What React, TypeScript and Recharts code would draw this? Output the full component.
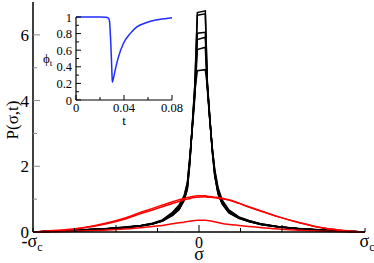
import { Label, Line, LineChart, XAxis, YAxis } from "recharts";

// sigma in units of sigma_c
const sigma = [
  -1, -0.85, -0.7, -0.55, -0.45, -0.35, -0.28, -0.22, -0.16, -0.12, -0.09, -0.07, -0.055, -0.04,
  -0.025, -0.01, 0.038, 0.05, 0.065, 0.08, 0.095, 0.115, 0.14, 0.18, 0.24, 0.3, 0.38, 0.48, 0.6,
  0.75, 0.88, 1,
];

const black1 = [
  0, 0.03, 0.06, 0.1, 0.13, 0.18, 0.24, 0.33, 0.5, 0.68, 0.95, 1.3, 2.1, 3.3, 4.5, 6.68, 6.73, 4.6,
  3.5, 2.45, 1.7, 1.15, 0.85, 0.58, 0.42, 0.32, 0.22, 0.15, 0.1, 0.05, 0.02, 0,
];
const black2 = [
  0, 0.03, 0.06, 0.1, 0.13, 0.18, 0.24, 0.33, 0.52, 0.7, 0.97, 1.33, 2.12, 3.3, 4.45, 6.6, 6.64,
  4.55, 3.48, 2.45, 1.72, 1.17, 0.86, 0.59, 0.42, 0.32, 0.22, 0.15, 0.1, 0.05, 0.02, 0,
];
const black3 = [
  0, 0.03, 0.06, 0.1, 0.14, 0.19, 0.25, 0.34, 0.54, 0.73, 1.0, 1.38, 2.18, 3.25, 4.3, 6.05, 6.08,
  4.5, 3.45, 2.5, 1.75, 1.2, 0.88, 0.61, 0.43, 0.33, 0.23, 0.15, 0.1, 0.05, 0.02, 0,
];
const black4 = [
  0, 0.03, 0.06, 0.1, 0.14, 0.19, 0.25, 0.35, 0.56, 0.76, 1.03, 1.42, 2.22, 3.2, 4.2, 5.86, 5.93,
  4.45, 3.45, 2.55, 1.8, 1.25, 0.9, 0.63, 0.44, 0.33, 0.23, 0.16, 0.1, 0.05, 0.02, 0,
];
const black5 = [
  0, 0.03, 0.06, 0.11, 0.14, 0.2, 0.26, 0.36, 0.58, 0.79, 1.06, 1.47, 2.28, 3.15, 4.1, 5.55, 5.62,
  4.35, 3.4, 2.55, 1.85, 1.3, 0.93, 0.65, 0.45, 0.34, 0.24, 0.16, 0.1, 0.05, 0.02, 0,
];
const black6 = [
  0, 0.03, 0.07, 0.11, 0.15, 0.2, 0.27, 0.37, 0.6, 0.82, 1.1, 1.52, 2.3, 3.2, 4.3, 4.91, 4.94,
  4.45, 3.4, 2.55, 1.9, 1.35, 0.97, 0.67, 0.46, 0.35, 0.24, 0.16, 0.11, 0.06, 0.02, 0,
];

const red1 = [
  0, 0.05, 0.13, 0.28, 0.42, 0.6, 0.72, 0.82, 0.92, 0.98, 1.02, 1.05, 1.06, 1.08, 1.09, 1.1, 1.1,
  1.09, 1.08, 1.07, 1.06, 1.05, 1.03, 0.98, 0.88, 0.77, 0.63, 0.46, 0.29, 0.12, 0.04, 0,
];
const red2 = [
  0, 0.04, 0.12, 0.26, 0.39, 0.56, 0.67, 0.77, 0.87, 0.93, 0.98, 1.0, 1.02, 1.04, 1.05, 1.06, 1.07,
  1.06, 1.06, 1.05, 1.04, 1.03, 1.01, 0.97, 0.87, 0.76, 0.62, 0.46, 0.29, 0.12, 0.04, 0,
];
const red3 = [
  0, 0.01, 0.03, 0.06, 0.09, 0.13, 0.17, 0.2, 0.25, 0.28, 0.3, 0.32, 0.33, 0.34, 0.35, 0.36, 0.36,
  0.35, 0.34, 0.33, 0.31, 0.29, 0.26, 0.23, 0.2, 0.17, 0.13, 0.09, 0.05, 0.02, 0.01, 0,
];

const xTicks = [-1, -0.75, -0.5, -0.25, 0, 0.25, 0.5, 0.75, 1];
const yTicks = [0, 1, 2, 3, 4, 5, 6, 7];

// inset: phi_t vs t
const tInset = [
  0, 0.01, 0.02, 0.025, 0.0265, 0.0275, 0.028, 0.0285, 0.029, 0.0295, 0.03, 0.0303, 0.031, 0.0326,
  0.0354, 0.0395, 0.0451, 0.0507, 0.059, 0.0675, 0.0786, 0.08,
];
const phiT = [
  1, 1, 1, 0.998, 0.99, 0.975, 0.94, 0.83, 0.68, 0.5, 0.3, 0.215, 0.25, 0.357, 0.52, 0.68, 0.8,
  0.88, 0.934, 0.967, 0.988, 0.99,
];
const insetXTicks = [0, 0.02, 0.04, 0.06, 0.08];
const insetXLabels = ["0", "", "0.04", "", "0.08"];
const insetYTicks = [0, 0.1, 0.2, 0.3, 0.4, 0.5, 0.6, 0.7, 0.8, 0.9, 1];
const insetYLabels = ["0", "", "0.2", "", "0.4", "", "0.6", "", "0.8", "", "1"];

const blackSeries = [black1, black2, black3, black4, black5, black6];
const redSeries = [red1, red2, red3];

const mainData = sigma.map((s, i) => {
  const row: Record<string, number> = { s };
  blackSeries.forEach((arr, k) => (row[`b${k}`] = arr[i]));
  redSeries.forEach((arr, k) => (row[`r${k}`] = arr[i]));
  return row;
});
const insetData = tInset.map((t, i) => ({ t, phi: phiT[i] }));

const FONT = "'Times New Roman', 'Liberation Serif', 'DejaVu Serif', serif";
const GRAY = "#8a8a8a";
const txt = { fontFamily: FONT };

function MainBottomTick({ x, y, payload }: any) {
  const v = payload.value;
  const major = v === 0 || Math.abs(v) === 0.5;
  let label: any = null;
  if (v === -1 || v === 1) {
    label = (
      <text x={v === -1 ? x - 1 : x + 2} y={y + 15} textAnchor="middle" fontSize={18} style={txt} fill="#000">
        {v === -1 ? "-σ" : "σ"}
        <tspan dy={4} fontSize={12}>
          c
        </tspan>
      </text>
    );
  } else if (v === 0) {
    label = (
      <text x={x} y={y + 16} textAnchor="middle" fontSize={16} style={txt} fill="#000">
        0
      </text>
    );
  }
  return (
    <g>
      <line x1={x} y1={y} x2={x} y2={y - (major ? 7 : 4)} stroke="#000" />
      {label}
    </g>
  );
}

function MainTopTick({ x, y, payload }: any) {
  const v = payload.value;
  const major = v === 0 || Math.abs(v) === 0.5;
  return <line x1={x} y1={y} x2={x} y2={y + (major ? 7 : 4)} stroke={GRAY} />;
}

function MainLeftTick({ x, y, payload }: any) {
  const v = payload.value;
  const major = v % 2 === 0;
  return (
    <g>
      {v !== 0 && v !== 7 && (
        <line x1={x} y1={y} x2={x + (major ? 7 : 4)} y2={y} stroke={GRAY} />
      )}
      {major && (
        <text x={x - 4} y={y} dy="0.36em" textAnchor="end" fontSize={17} style={txt} fill="#000">
          {v}
        </text>
      )}
    </g>
  );
}

function MainRightTick({ x, y, payload }: any) {
  const v = payload.value;
  if (v === 0 || v === 7) return <g />;
  return <line x1={x} y1={y} x2={x - (v % 2 === 0 ? 7 : 4)} y2={y} stroke={GRAY} />;
}

function InsetBottomTick({ x, y, index }: any) {
  const label = insetXLabels[index];
  return (
    <g>
      <line x1={x} y1={y} x2={x} y2={y - (label ? 5 : 3)} stroke="#000" />
      {label && (
        <text x={x} y={y + 12} textAnchor="middle" fontSize={12.5} style={txt} fill="#000">
          {label}
        </text>
      )}
    </g>
  );
}

function InsetTopTick({ x, y, index }: any) {
  const label = insetXLabels[index];
  return <line x1={x} y1={y} x2={x} y2={y + (label ? 5 : 3)} stroke="#000" />;
}

function InsetLeftTick({ x, y, index }: any) {
  const label = insetYLabels[index];
  return (
    <g>
      <line x1={x} y1={y} x2={x + (label ? 5 : 3)} y2={y} stroke="#000" />
      {label && (
        <text x={x - 4} y={y} dy="0.36em" textAnchor="end" fontSize={12.5} style={txt} fill="#000">
          {label}
        </text>
      )}
    </g>
  );
}

function InsetRightTick({ x, y, index }: any) {
  const label = insetYLabels[index];
  return <line x1={x} y1={y} x2={x - (label ? 5 : 3)} y2={y} stroke="#000" />;
}

export default function App() {
  return (
    <div style={{ position: "absolute", left: 0, top: 0, width: 374, height: 263, background: "#fff" }}>
      <LineChart width={374} height={263} data={mainData} margin={{ top: 2, right: 9, bottom: 0, left: 0 }}>
        <XAxis
          dataKey="s"
          type="number"
          domain={[-1, 1]}
          ticks={xTicks}
          interval={0}
          height={31}
          tickSize={0}
          tickMargin={0}
          tickLine={false}
          axisLine={{ stroke: "#000", strokeWidth: 1.5 }}
          tick={<MainBottomTick />}
        >
          <Label
            content={({ viewBox }: any) => (
              <text
                x={viewBox.x + viewBox.width / 2}
                y={viewBox.y + 28}
                textAnchor="middle"
                fontSize={18}
                style={txt}
                fill="#000"
              >
                σ
              </text>
            )}
          />
        </XAxis>
        <XAxis
          xAxisId="top"
          orientation="top"
          dataKey="s"
          type="number"
          domain={[-1, 1]}
          ticks={xTicks}
          interval={0}
          height={0}
          tickSize={0}
          tickMargin={0}
          tickLine={false}
          axisLine={{ stroke: GRAY, strokeWidth: 2 }}
          tick={<MainTopTick />}
        />
        <YAxis
          type="number"
          domain={[0, 7]}
          ticks={yTicks}
          interval={0}
          width={33}
          tickSize={0}
          tickMargin={0}
          tickLine={false}
          axisLine={{ stroke: "#000", strokeWidth: 1.5 }}
          tick={<MainLeftTick />}
        >
          <Label
            content={({ viewBox }: any) => {
              const cx = viewBox.x + 12;
              const cy = viewBox.y + viewBox.height / 2 + 3;
              return (
                <text
                  x={cx}
                  y={cy}
                  transform={`rotate(-90, ${cx}, ${cy})`}
                  textAnchor="middle"
                  dominantBaseline="central"
                  fontSize={17}
                  style={txt}
                  fill="#000"
                >
                  P(σ,t)
                </text>
              );
            }}
          />
        </YAxis>
        <YAxis
          yAxisId="right"
          orientation="right"
          type="number"
          domain={[0, 7]}
          ticks={yTicks}
          interval={0}
          width={0}
          tickSize={0}
          tickMargin={0}
          tickLine={false}
          axisLine={{ stroke: GRAY, strokeWidth: 1.5 }}
          tick={<MainRightTick />}
        />
        {blackSeries.map((_, k) => (
          <Line
            key={`b${k}`}
            type="linear"
            dataKey={`b${k}`}
            stroke="#000"
            strokeWidth={1.5}
            dot={false}
            isAnimationActive={false}
          />
        ))}
        {redSeries.map((_, k) => (
          <Line
            key={`r${k}`}
            type="monotone"
            dataKey={`r${k}`}
            stroke="#ff0000"
            strokeWidth={1.5}
            dot={false}
            isAnimationActive={false}
          />
        ))}
      </LineChart>

      <div style={{ position: "absolute", left: 28, top: 10, width: 162, height: 120 }}>
        <LineChart width={162} height={120} data={insetData} margin={{ top: 7, right: 18, bottom: 0, left: 0 }}>
          <XAxis
            dataKey="t"
            type="number"
            domain={[0, 0.08]}
            ticks={insetXTicks}
            interval={0}
            height={30}
            tickSize={0}
            tickMargin={0}
            tickLine={false}
            axisLine={{ stroke: "#000", strokeWidth: 1.2 }}
            tick={<InsetBottomTick />}
          >
            <Label
              content={({ viewBox }: any) => (
                <text
                  x={viewBox.x + viewBox.width / 2}
                  y={viewBox.y + 25}
                  textAnchor="middle"
                  fontSize={13}
                  style={txt}
                  fill="#000"
                >
                  t
                </text>
              )}
            />
          </XAxis>
          <XAxis
            xAxisId="top"
            orientation="top"
            dataKey="t"
            type="number"
            domain={[0, 0.08]}
            ticks={insetXTicks}
            interval={0}
            height={0}
            tickSize={0}
            tickMargin={0}
            tickLine={false}
            axisLine={{ stroke: "#000", strokeWidth: 1.2 }}
            tick={<InsetTopTick />}
          />
          <YAxis
            type="number"
            domain={[0, 1]}
            ticks={insetYTicks}
            interval={0}
            width={48}
            tickSize={0}
            tickMargin={0}
            tickLine={false}
            axisLine={{ stroke: "#000", strokeWidth: 1.2 }}
            tick={<InsetLeftTick />}
          >
            <Label
              content={({ viewBox }: any) => (
                <text
                  x={viewBox.x + 15}
                  y={viewBox.y + viewBox.height / 2 + 4}
                  fontSize={13}
                  style={txt}
                  fill="#000"
                >
                  ϕ
                  <tspan dy={3} fontSize={9}>
                    t
                  </tspan>
                </text>
              )}
            />
          </YAxis>
          <YAxis
            yAxisId="right"
            orientation="right"
            type="number"
            domain={[0, 1]}
            ticks={insetYTicks}
            interval={0}
            width={0}
            tickSize={0}
            tickMargin={0}
            tickLine={false}
            axisLine={{ stroke: "#000", strokeWidth: 1.2 }}
            tick={<InsetRightTick />}
          />
          <Line
            type="monotone"
            dataKey="phi"
            stroke="#1f2dff"
            strokeWidth={1.5}
            dot={false}
            isAnimationActive={false}
          />
        </LineChart>
      </div>
    </div>
  );
}
